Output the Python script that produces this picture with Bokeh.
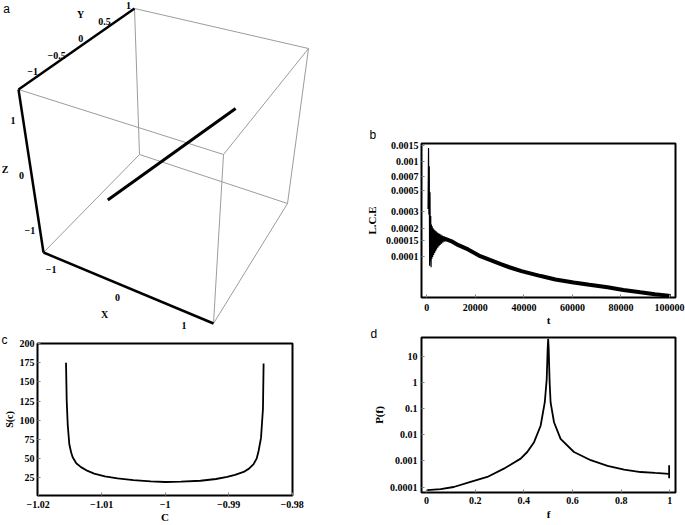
from bokeh.plotting import figure
from bokeh.layouts import column, row
from bokeh.models import Range1d, FixedTicker, Title
from bokeh.embed import file_html
from bokeh.resources import INLINE
from bokeh.core.properties import value

# ---------------- DATA ----------------
# panel a : 3-D box and trajectory
a_x_range = [-1.19, 1.37]
a_y_range = [-1.39, 1.03]
a_z_range = [-1.42, 1.54]
a_x_ticks = [-1, 0, 1]
a_x_tick_labels = ["\u22121", "0", "1"]
a_y_ticks = [-1, -0.5, 0, 0.5, 1]
a_y_tick_labels = ["\u22121", "\u22120.5", "0", "0.5", "1"]
a_z_ticks = [-1, 0, 1]
a_z_tick_labels = ["\u22121", "0", "1"]
a_line_x = [-0.62, 0.60]
a_line_y = [-0.62, 0.60]
a_line_z = [-0.76, 0.50]

# panel b : L.C.E versus t
b_early_t = [500, 700, 850, 1000, 1150, 1300, 1450, 1600, 1750, 1900,
             2050, 2200, 2400, 2600, 2800, 3000, 3200, 3400, 3600, 3800,
             4000, 4250, 4500, 4750, 5000, 5250, 5500, 5800, 6100, 6400,
             6700, 7000, 7400, 7800, 8200, 8600, 9000, 9500, 10000]
b_early_v = [0.00032, 0.0014, 0.00028, 0.0009, 0.000081, 0.00048, 0.00009, 0.00027, 0.000078, 0.00022,
             0.000095, 0.00021, 0.0001, 0.0002, 0.000105, 0.000195, 0.00011, 0.00019, 0.000115, 0.000186,
             0.00012, 0.000182, 0.000125, 0.000178, 0.00013, 0.000175, 0.000134, 0.000172, 0.000138, 0.000168,
             0.000142, 0.000165, 0.000145, 0.000162, 0.000147, 0.000158, 0.000148, 0.000153, 0.000147]
b_t = [4000, 7000, 10000, 13000, 17000, 22000, 26000, 30500, 34000, 39000,
       47000, 53000, 60500, 67000, 74500, 81000, 88000, 94000, 100500]
b_v = [1.62e-4, 1.57e-4, 1.47e-4, 1.33e-4, 1.2e-4, 1.02e-4, 9.3e-5, 8.4e-5, 7.8e-5, 7.1e-5,
       6.3e-5, 5.8e-5, 5.4e-5, 5.1e-5, 4.8e-5, 4.5e-5, 4.25e-5, 4.05e-5, 3.9e-5]
b_xticks = [0, 20000, 40000, 60000, 80000, 100000]
b_xtick_labels = ["0", "20000", "40000", "60000", "80000", "100000"]
b_yticks = [0.0001, 0.00015, 0.0002, 0.0003, 0.0005, 0.0007, 0.001, 0.0015]
b_ytick_labels = ["0.0001", "0.00015", "0.0002", "0.0003", "0.0005", "0.0007", "0.001", "0.0015"]

# panel c : S(c) versus C
c_x = [-1.01561, -1.01550, -1.01534, -1.01509, -1.01480, -1.01456, -1.01400, -1.01325, -1.01220, -1.01117,
       -1.00950, -1.00750, -1.00500, -1.00227, -1.00000, -0.99750, -0.99443, -0.99200, -0.99024, -0.98900,
       -0.98764, -0.98680, -0.98607, -0.98560, -0.98529, -0.98491, -0.98460, -0.98450]
c_y = [175, 125, 94, 68.7, 58, 51.8, 44, 39, 34, 30.5,
       27, 24.2, 22, 20.4, 19.6, 20, 21.2, 23.5, 26.3, 29,
       32.7, 37, 43, 50, 60, 77, 115, 174]
c_xticks = [-1.02, -1.01, -1.0, -0.99, -0.98]
c_xtick_labels = ["\u22121.02", "\u22121.01", "\u22121", "\u22120.99", "\u22120.98"]
c_yticks = [25, 50, 75, 100, 125, 150, 175, 200]
c_ytick_labels = ["25", "50", "75", "100", "125", "150", "175", "200"]

# panel d : P(f) versus f
d_f = [0.003, 0.058, 0.112, 0.181, 0.25, 0.318, 0.387, 0.414, 0.442, 0.469,
       0.486, 0.494, 0.498, 0.5, 0.502, 0.506, 0.51, 0.524, 0.551, 0.606,
       0.675, 0.744, 0.812, 0.88, 0.94, 0.996]
d_p = [7.8e-5, 8.4e-5, 1.02e-4, 1.6e-4, 2.46e-4, 5.1e-4, 1.23e-3, 2.2e-3, 5.2e-3, 0.022,
       0.17, 1.3, 20, 45, 20, 1.0, 0.17, 0.03, 7e-3, 2.2e-3,
       1.07e-3, 6.5e-4, 4.7e-4, 3.8e-4, 3.5e-4, 3.25e-4]
d_end_f = [0.997, 0.997]
d_end_p = [6.9e-4, 2.2e-4]
d_xticks = [0, 0.2, 0.4, 0.6, 0.8, 1]
d_xtick_labels = ["0", "0.2", "0.4", "0.6", "0.8", "1"]
d_yticks = [0.0001, 0.001, 0.01, 0.1, 1, 10]
d_ytick_labels = ["0.0001", "0.001", "0.01", "0.1", "1", "10"]

# ---------------- STYLE ----------------
SERIF = "Liberation Serif"
SANS = "Liberation Sans"
common = dict(output_backend="svg", toolbar_location=None, frame_align=False)

# ---------------- panel a ----------------
# projected screen layout of the eight box corners (pixel space of panel a)
A_CORNERS = {
    (0, 0, 0): (43, 252), (1, 0, 0): (213, 323), (0, 1, 0): (139, 154), (1, 1, 0): (287, 203),
    (0, 0, 1): (18, 89), (1, 0, 1): (223, 154), (0, 1, 1): (134, 8), (1, 1, 1): (308, 48),
}


def proj(x, y, z):
    u = (x - a_x_range[0]) / (a_x_range[1] - a_x_range[0])
    v = (y - a_y_range[0]) / (a_y_range[1] - a_y_range[0])
    w = (z - a_z_range[0]) / (a_z_range[1] - a_z_range[0])
    sx = sy = 0.0
    for (i, j, k), (cx, cy) in A_CORNERS.items():
        wt = (u if i else 1 - u) * (v if j else 1 - v) * (w if k else 1 - w)
        sx += wt * cx
        sy += wt * cy
    return sx, sy


def corner(i, j, k):
    return (a_x_range[i], a_y_range[j], a_z_range[k])


pa = figure(width=340, height=333, x_range=Range1d(0, 340), y_range=Range1d(333, 0),
            x_axis_location=None, y_axis_location=None, min_border=0, **common)
pa.grid.visible = False
pa.outline_line_color = None

edges = []
for i in (0, 1):
    for j in (0, 1):
        edges.append(((0, i, j), (1, i, j)))
        edges.append(((i, 0, j), (i, 1, j)))
        edges.append(((i, j, 0), (i, j, 1)))
axis_edges = [((0, 0, 0), (1, 0, 0)), ((0, 0, 1), (0, 1, 1)), ((0, 0, 0), (0, 0, 1))]
thin_xs, thin_ys = [], []
for e in edges:
    if e in axis_edges:
        continue
    p0 = proj(*corner(*e[0]))
    p1 = proj(*corner(*e[1]))
    thin_xs.append([p0[0], p1[0]])
    thin_ys.append([p0[1], p1[1]])
pa.multi_line(thin_xs, thin_ys, line_color="#9c9c9c", line_width=1)
thick_xs, thick_ys = [], []
for e in axis_edges:
    p0 = proj(*corner(*e[0]))
    p1 = proj(*corner(*e[1]))
    thick_xs.append([p0[0], p1[0]])
    thick_ys.append([p0[1], p1[1]])
pa.multi_line(thick_xs, thick_ys, line_color="black", line_width=2.5)

lp = [proj(a_line_x[n], a_line_y[n], a_line_z[n]) for n in range(len(a_line_x))]
pa.line([q[0] for q in lp], [q[1] for q in lp], line_color="black", line_width=3)

tx, ty, tt = [], [], []
for t, lab in zip(a_x_ticks, a_x_tick_labels):
    sx, sy = proj(t, a_y_range[0], a_z_range[0])
    tx.append(sx - 5); ty.append(sy + 12); tt.append(lab)
for t, lab in zip(a_y_ticks, a_y_tick_labels):
    sx, sy = proj(a_x_range[0], t, a_z_range[1])
    tx.append(sx - 4.5); ty.append(sy - 4.5); tt.append(lab)
for t, lab in zip(a_z_ticks, a_z_tick_labels):
    sx, sy = proj(a_x_range[0], a_y_range[0], t)
    tx.append(sx - 10); ty.append(sy + 1); tt.append(lab)
pa.text(tx, ty, text=tt, text_font=value(SERIF), text_font_style="bold",
        text_font_size="10px", text_align="center", text_baseline="middle")

mx = proj(sum(a_x_range) / 2, a_y_range[0], a_z_range[0])
my = proj(a_x_range[0], sum(a_y_range) / 2, a_z_range[1])
mz = proj(a_x_range[0], a_y_range[0], sum(a_z_range) / 2)
pa.text([mx[0] - 24, my[0] + 4, mz[0] - 26], [mx[1] + 26, my[1] - 35, mz[1] - 2],
        text=["X", "Y", "Z"], text_font=value(SERIF), text_font_style="bold",
        text_font_size="10px", text_align="center", text_baseline="middle")
pa.text([6], [8], text=["a"], text_font=value(SANS), text_font_size="12px",
        text_align="center", text_baseline="middle")


def style(p, xt, xl, yt, yl, xlabel, ylabel, xs=(6, 0), ys=(3, 5), ylab_size="11px"):
    p.grid.visible = False
    p.outline_line_color = "black"
    p.outline_line_width = 2
    p.xaxis.ticker = FixedTicker(ticks=xt)
    p.yaxis.ticker = FixedTicker(ticks=yt)
    p.xaxis.major_label_overrides = dict(zip(xt, xl))
    p.yaxis.major_label_overrides = dict(zip(yt, yl))
    p.xaxis.axis_label = xlabel
    p.yaxis.axis_label = ylabel
    p.xaxis.major_label_standoff = xs[0]
    p.xaxis.axis_label_standoff = xs[1]
    p.yaxis.major_label_standoff = ys[0]
    p.yaxis.axis_label_standoff = ys[1]
    for ax in p.axis:
        ax.axis_line_color = None
        ax.major_tick_in = 3
        ax.major_tick_out = 0
        ax.minor_tick_in = 0
        ax.minor_tick_out = 0
        ax.major_tick_line_color = "#808080"
        ax.major_label_text_font = SERIF
        ax.major_label_text_font_style = "bold"
        ax.major_label_text_font_size = "10px"
        ax.major_label_text_color = "black"
        ax.axis_label_text_font = SERIF
        ax.axis_label_text_font_style = "bold"
        ax.axis_label_text_font_size = "11px"
        ax.axis_label_text_color = "black"
    p.yaxis.axis_label_text_font_size = ylab_size


def letter(p, txt, offset, standoff):
    p.add_layout(Title(text=txt, align="left", offset=offset, standoff=standoff,
                       text_font=SANS, text_font_size="12px", text_font_style="normal",
                       text_color="black"), "above")


# ---------------- panel b ----------------
pb = figure(width=345, height=328, y_axis_type="log",
            x_range=Range1d(-2200, 102500), y_range=Range1d(3.75e-5, 1.56e-3),
            min_border_left=81, min_border_right=10, min_border_top=143, min_border_bottom=30,
            **common)
pb.line(b_early_t, b_early_v, line_color="black", line_width=1.2)
pb.line(b_t, b_v, line_color="black", line_width=4)
style(pb, b_xticks, b_xtick_labels, b_yticks, b_ytick_labels, "t", "L.C.E", xs=(6, 0), ys=(3, 5))
letter(pb, "b", -52, 3)

# ---------------- panel c ----------------
pc = figure(width=340, height=192, x_range=Range1d(-1.0201, -0.97995), y_range=Range1d(2, 200),
            min_border_left=37, min_border_right=48, min_border_top=10, min_border_bottom=28,
            **common)
pc.line(c_x, c_y, line_color="black", line_width=1.8)
style(pc, c_xticks, c_xtick_labels, c_yticks, c_ytick_labels, "C", "S(c)", xs=(5, 0), ys=(3, 2),
      ylab_size="10px")
letter(pc, "c", -36, -6.5)

# ---------------- panel d ----------------
pd = figure(width=345, height=197, y_axis_type="log",
            x_range=Range1d(-0.0205, 1.0232), y_range=Range1d(6.3e-5, 50.8),
            min_border_left=81, min_border_right=10, min_border_top=9, min_border_bottom=33,
            **common)
pd.line(d_f, d_p, line_color="black", line_width=1.8)
pd.line(d_end_f, d_end_p, line_color="black", line_width=1.8)
style(pd, d_xticks, d_xtick_labels, d_yticks, d_ytick_labels, "f", "P(f)", xs=(4, 1), ys=(4, 2))
letter(pd, "d", -51, -6.8)

layout = row(column(pa, pc), column(pb, pd))
open("out.html", "w").write(file_html(layout, INLINE))
